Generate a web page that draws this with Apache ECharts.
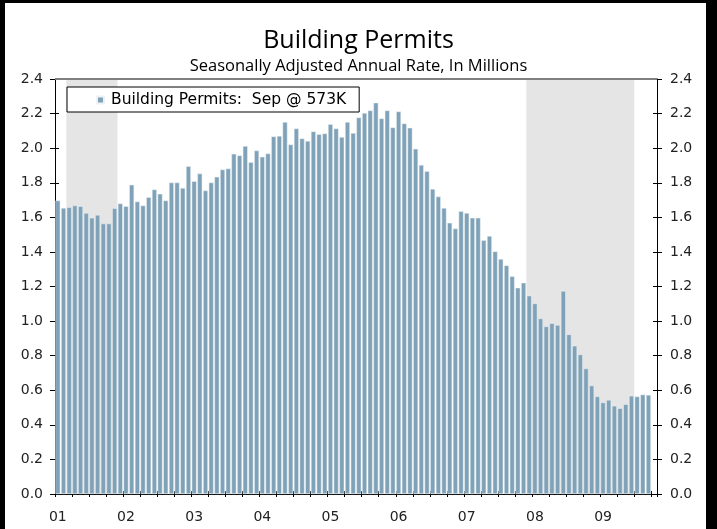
<!DOCTYPE html>
<html>
<head>
<meta charset="utf-8">
<script src="https://cdn.jsdelivr.net/npm/echarts@6/dist/echarts.min.js"></script>
<style>
html,body{margin:0;padding:0;background:#fff;}
#chart{width:717px;height:529px;}
</style>
</head>
<body>
<div id="chart"></div>
<script>
// ---- data ----
var years = ['01','02','03','04','05','06','07','08','09'];
var monthNames = ['Jan','Feb','Mar','Apr','May','Jun','Jul','Aug','Sep','Oct','Nov','Dec'];
var permits2001 = [1.697,1.654,1.658,1.668,1.664,1.625,1.597,1.614,1.564,1.564,1.653,1.680];
var permits2002 = [1.664,1.788,1.691,1.668,1.716,1.761,1.736,1.697,1.801,1.801,1.770,1.896];
var permits2003 = [1.809,1.853,1.755,1.801,1.834,1.876,1.882,1.967,1.958,2.012,1.919,1.986];
var permits2004 = [1.950,1.969,2.068,2.071,2.151,2.021,2.114,2.056,2.042,2.097,2.081,2.085];
var permits2005 = [2.139,2.114,2.064,2.151,2.087,2.178,2.203,2.218,2.263,2.172,2.218,2.120];
var permits2006 = [2.212,2.143,2.118,1.996,1.903,1.867,1.764,1.720,1.654,1.568,1.535,1.635];
var permits2007 = [1.625,1.597,1.597,1.467,1.492,1.403,1.359,1.322,1.259,1.193,1.222,1.147];
var permits2008 = [1.102,1.015,0.969,0.988,0.977,1.174,0.923,0.857,0.807,0.726,0.627,0.564];
var permits2009 = [0.529,0.544,0.510,0.496,0.519,0.568,0.564,0.575,0.573];
// recessions: [first month, last month]
var recessions = [['01-Mar','01-Nov'],['07-Dec','09-Jun']];
var yTicks = ['0.0','0.2','0.4','0.6','0.8','1.0','1.2','1.4','1.6','1.8','2.0','2.2','2.4'];

// ---- build ----
var values = [].concat(permits2001,permits2002,permits2003,permits2004,permits2005,
                       permits2006,permits2007,permits2008,permits2009);
var categories = [];
years.forEach(function(y){ monthNames.forEach(function(m){ categories.push(y+'-'+m); }); });
var nCat = values.length + 1; // one empty slot after the last month
categories = categories.slice(0, nCat);
var lastIdx = values.length - 1;
var lastMonth = categories[lastIdx].split('-')[1];
var legendName = 'Building Permits:  ' + lastMonth + ' @ ' + Math.round(values[lastIdx]*1000) + 'K';
var shadeAreas = recessions.map(function(r){
  return [{xAxis: categories.indexOf(r[0])}, {xAxis: categories.indexOf(r[1]) + 1}];
});

var FONT = 'DejaVu Sans';
var yMin = parseFloat(yTicks[0]), yMax = parseFloat(yTicks[yTicks.length-1]);

var chart = echarts.init(document.getElementById('chart'));
function baseY(pos, margin){
  return {
    type:'value', min:yMin, max:yMax, interval:0.2, position:pos,
    splitLine:{show:false},
    axisLine:{show:true, lineStyle:{color:'#000', width:1}},
    axisTick:{show:true, length:5, lineStyle:{color:'#000'}},
    axisLabel:{fontFamily:FONT, fontSize:14, color:'#222', margin:margin,
      formatter:function(v){return v.toFixed(1);}}
  };
}
chart.setOption({
  animation:false,
  backgroundColor:'#fff',
  title:[
    {text:'Building Permits', left:'center', top:23,
     textStyle:{fontFamily:'Open Sans', fontWeight:'normal', fontSize:25, color:'#000'}},
    {text:'Seasonally Adjusted Annual Rate, In Millions', left:'center', top:53,
     textStyle:{fontFamily:'Open Sans', fontWeight:'normal', fontSize:16.5, color:'#000'}}
  ],
  legend:{
    left:67, top:87, orient:'horizontal',
    data:[{name:legendName, icon:'rect'}],
    itemWidth:7, itemHeight:7, itemGap:0,
    padding:[5,13,4,29],
    borderColor:'#000', borderWidth:1, backgroundColor:'#fff',
    textStyle:{fontFamily:FONT, fontSize:15.5, color:'#000', padding:[0,0,0,2]}
  },
  grid:{left:55, right:60, top:79, bottom:35, containLabel:false},
  xAxis:[
    {type:'category', data:categories, boundaryGap:true,
     axisLine:{show:true, lineStyle:{color:'#000'}},
     axisTick:{show:true, length:3, interval:function(i){return i%3===0;}, lineStyle:{color:'#000'}},
     axisLabel:{interval:function(i){return i%12===0;}, margin:16,
       fontFamily:FONT, fontSize:14, color:'#222',
       formatter:function(v){return v.split('-')[0];}},
     splitLine:{show:false}},
    {type:'category', data:categories, boundaryGap:true, position:'bottom',
     axisLine:{show:false},
     axisTick:{show:true, inside:true, length:3, interval:function(i){return i%3===0;}, lineStyle:{color:'#000'}},
     axisLabel:{show:false}, splitLine:{show:false}},
    {type:'value', min:0, max:nCat, show:false}
  ],
  yAxis:[
    baseY('left', 12),
    baseY('right', 13),
    {type:'value', min:yMin, max:yMax, interval:0.2, position:'left',
     axisLine:{show:false}, axisLabel:{show:false}, splitLine:{show:false},
     axisTick:{show:true, inside:true, length:4, lineStyle:{color:'#000'}}},
    {type:'value', min:yMin, max:yMax, interval:0.2, position:'right',
     axisLine:{show:false}, axisLabel:{show:false}, splitLine:{show:false},
     axisTick:{show:true, inside:true, length:4, lineStyle:{color:'#000'}}}
  ],
  series:[
    {type:'line', name:'recession', xAxisIndex:2, yAxisIndex:0, data:[], silent:true,
     markArea:{silent:true, itemStyle:{color:'#e5e5e5'}, data:shadeAreas},
     markLine:{silent:true, symbol:['none','none'], label:{show:false},
       lineStyle:{color:'#7f7f7f', width:2, type:'solid'}, data:[{yAxis:yMax}]},
     z:1},
    {type:'bar', name:legendName, xAxisIndex:0, yAxisIndex:0, data:values,
     barCategoryGap:'14%',
     itemStyle:{color:'#7fa2b8', borderColor:'#eef2f5', borderWidth:0.5},
     z:2}
  ],
  graphic:[
    {type:'rect', shape:{x:0,y:0,width:717,height:3}, style:{fill:'#000'}, z:100},
    {type:'rect', shape:{x:0,y:0,width:5,height:529}, style:{fill:'#000'}, z:100},
    {type:'rect', shape:{x:706,y:0,width:11,height:529}, style:{fill:'#000'}, z:100}
  ]
});
</script>
</body>
</html>
